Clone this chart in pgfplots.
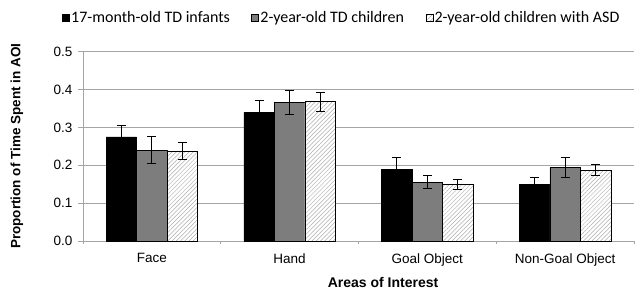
\documentclass[border=0pt]{standalone}
\usepackage{fontspec}
\setmainfont{Liberation Sans}
\newfontfamily\carlito{Carlito}
\usepackage{pgfplots}
\pgfplotsset{compat=1.18}
\usetikzlibrary{patterns.meta}
\definecolor{gridgray}{RGB}{165,165,165}
\definecolor{bargray}{RGB}{125,125,125}
\definecolor{hatchgray}{RGB}{175,175,175}

\begin{document}
\begin{tikzpicture}
\begin{axis}[
  scale only axis, width=551pt, height=189.3pt,
  xmin=-0.5, xmax=3.5, ymin=0, ymax=0.5,
  ybar=0pt, bar width=30.5pt,
  axis lines=left,
  axis line style={-, draw=gridgray, line width=0.8pt},
  xtick={0,1,2,3},
  xticklabels={Face,Hand,Goal Object,Non-Goal Object},
  major x tick style={draw=none},
  minor xtick={-0.5,0.5,1.5,2.5,3.5},
  minor x tick style={gridgray, line width=0.6pt},
  minor tick length=3pt,
  major tick length=5pt,
  tick align=outside,
  ytick={0,0.1,0.2,0.3,0.4,0.5},
  y tick style={gridgray, line width=0.6pt},
  ymajorgrids,
  grid style={gridgray, line width=0.8pt},
  yticklabel style={/pgf/number format/fixed, /pgf/number format/fixed zerofill, /pgf/number format/precision=1, /pgf/number format/assume math mode=true, xshift=-2pt},
  xticklabel style={yshift=-4pt},
  ticklabel style={font=\fontsize{13.5}{15}\selectfont},
  xlabel={Areas of Interest},
  ylabel={Proportion of Time Spent in AOI},
  xlabel style={font=\bfseries\fontsize{14}{16}\selectfont, at={(axis description cs:0.5445,-0.2166)}, anchor=center},
  ylabel style={font=\bfseries\fontsize{13.5}{16}\selectfont, at={(axis description cs:-0.1198,0.5)}, anchor=center},
  legend columns=3,
  legend style={draw=none, fill=none, font=\carlito\fontsize{16}{18}\selectfont,
    at={(axis description cs:-0.0381,1.178)}, anchor=west, inner sep=0pt,
    nodes={inner xsep=1.5pt},
    /tikz/every even column/.append style={column sep=20pt}},
  legend image code/.code={\draw[#1, line width=0.5pt] (0pt,-3.5pt) rectangle (7pt,3.5pt);},
  error bars/y dir=both,
  error bars/y explicit,
  error bars/error bar style={line width=0.9pt, black},
  error bars/error mark options={rotate=90, mark size=4.5pt, line width=0.9pt, black},
]
\addplot[fill=black, draw=black, line width=0.7pt] coordinates {
  (0,0.275) +- (0,0.031)
  (1,0.339) +- (0,0.032)
  (2,0.189) +- (0,0.031)
  (3,0.150) +- (0,0.019)
};
\addplot[fill=bargray, draw=black, line width=0.7pt] coordinates {
  (0,0.240) +- (0,0.035)
  (1,0.365) +- (0,0.032)
  (2,0.155) +- (0,0.017)
  (3,0.194) +- (0,0.027)
};
\addplot[fill=white, draw=black, line width=0.7pt, postaction={pattern={Lines[angle=45,distance=3pt,line width=0.5pt]}, pattern color=hatchgray}] coordinates {
  (0,0.238) +- (0,0.023)
  (1,0.368) +- (0,0.025)
  (2,0.149) +- (0,0.014)
  (3,0.187) +- (0,0.015)
};
\legend{17-month-old TD infants, 2-year-old TD children, 2-year-old children with ASD}
\end{axis}
\pgfresetboundingbox
\path (-83pt,-49pt) rectangle (552pt,241pt);
\end{tikzpicture}
\end{document}
